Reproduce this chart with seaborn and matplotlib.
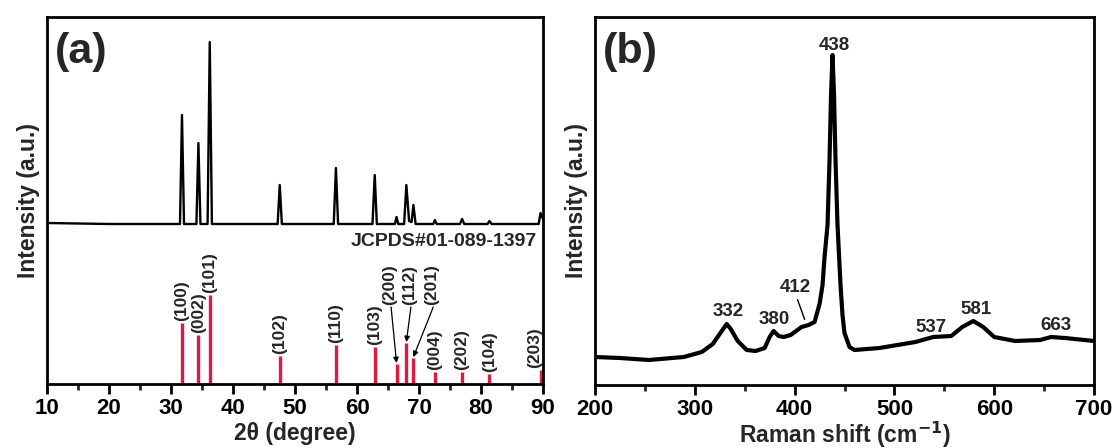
import matplotlib
matplotlib.use("Agg")
import matplotlib.pyplot as plt
from matplotlib.ticker import MultipleLocator
import seaborn as sns
import pandas as pd

# ---- XRD pattern of the sample (2theta vs intensity, arbitrary units) ----
xrd_two_theta = [10, 20, 31.45, 31.77, 32.1, 34.1, 34.42, 34.75, 35.9, 36.25,
                 36.6, 47.2, 47.54, 47.88, 56.25, 56.6, 56.95, 62.5, 62.86, 63.2,
                 66.1, 66.38, 66.65, 67.6, 67.96, 68.4, 68.8, 69.1, 69.45, 72.3,
                 72.56, 72.85, 76.6, 76.95, 77.3, 81.05, 81.37, 81.7, 89.3, 89.6,
                 90]
xrd_intensity = [161, 160, 160, 269, 160, 160, 241, 160, 160, 342,
                 160, 160, 199, 160, 160, 216, 160, 160, 209, 160,
                 160, 167, 160, 160, 199, 163, 162, 179, 160, 160,
                 164, 160, 160, 165, 160, 160, 163, 160, 160, 171,
                 165]

# ---- Standard reference lines (JCPDS#01-089-1397) ----
ref_two_theta = [31.77, 34.42, 36.25, 47.54, 56.6, 62.86, 66.38, 67.96, 69.1,
                 72.56, 76.95, 81.37, 89.6]
ref_intensity = [61, 49, 89, 28, 39, 37, 20, 41, 26, 12, 12, 10, 14]
ref_hkl = ["(100)", "(002)", "(101)", "(102)", "(110)", "(103)", "(200)",
           "(112)", "(201)", "(004)", "(202)", "(104)", "(203)"]

# ---- Raman spectrum ----
raman_shift = [200, 225, 254, 289, 307, 318, 327, 332, 336, 343,
               352, 361, 370, 375, 379, 384, 389, 396, 407, 414,
               420, 425, 428, 430, 433, 435, 436.5, 438, 439.5, 441,
               443, 446, 448, 450, 455, 460, 485, 521, 539, 557,
               568, 579, 589, 600, 621, 646, 657, 671, 700]
raman_intensity = [28, 27, 25, 28, 33, 41, 54, 61, 56, 44,
                   35, 34, 37, 48, 54, 49, 48, 50, 58, 60,
                   63, 81, 100, 128, 160, 225, 290, 330, 290, 225,
                   160, 100, 70, 52, 38, 35, 37, 43, 48, 49,
                   58, 64, 58, 48, 44, 45, 48, 47, 44]
raman_peaks = [332, 380, 412, 438, 537, 581, 663]

sns.set_theme(style="ticks")
plt.rcParams["font.family"] = ["Liberation Sans", "DejaVu Sans"]
plt.rcParams["font.weight"] = "bold"
plt.rcParams["axes.labelweight"] = "bold"
plt.rcParams["mathtext.default"] = "bf"

fig = plt.figure(figsize=(11.2, 4.48), dpi=100)
ax_a = fig.add_axes([47 / 1120, 1 - 384 / 448, 496 / 1120, 367 / 448])
ax_b = fig.add_axes([595 / 1120, 1 - 385 / 448, 499 / 1120, 368 / 448])

TICK_FS = 16
LABEL_FS = 16.5
HKL_FS = 12.5
PEAK_FS = 13.5
red = "#e3173f"


def style_axes(ax, major, minor):
    for sp in ax.spines.values():
        sp.set_visible(True)
        sp.set_linewidth(2.0)
        sp.set_color("black")
    ax.set_yticks([])
    ax.xaxis.set_major_locator(MultipleLocator(major))
    ax.xaxis.set_minor_locator(MultipleLocator(minor))
    ax.tick_params(axis="x", which="major", direction="out", length=7, width=2,
                   labelsize=TICK_FS, pad=3, colors="black")
    ax.tick_params(axis="x", which="minor", direction="out", length=4, width=2)
    for lab in ax.get_xticklabels():
        lab.set_fontweight("bold")


# ---------------- panel (a): XRD ----------------
xrd_df = pd.DataFrame({"two_theta": xrd_two_theta, "intensity": xrd_intensity})
sns.lineplot(data=xrd_df, x="two_theta", y="intensity", ax=ax_a, color="black",
             linewidth=1.7, estimator=None, sort=False)
ax_a.vlines(ref_two_theta, 0, ref_intensity, color=red, linewidth=2.4)

ax_a.set_xlim(10, 90)
ax_a.set_ylim(0, 367)
style_axes(ax_a, 10, 5)
ax_a.set_xlabel("2θ (degree)", fontsize=LABEL_FS, fontweight="bold", labelpad=2)
ax_a.set_ylabel("Intensity (a.u.)", fontsize=LABEL_FS, fontweight="bold", labelpad=5)
ax_a.text(0.016, 0.96, "(a)", transform=ax_a.transAxes, fontsize=31,
          fontweight="bold", ha="left", va="top")
ax_a.text(89.0, 142, "JCPDS#01-089-1397", fontsize=14, fontweight="bold",
          ha="right", va="center")

# hkl labels; the crowded (200)/(112)/(201) group is lifted and pointed with arrows
lifted = {"(200)": 65.3, "(112)": 68.5, "(201)": 72.1}
for pos, h, hkl in zip(ref_two_theta, ref_intensity, ref_hkl):
    if hkl in lifted:
        lx = lifted[hkl]
        ax_a.text(lx, 79, hkl, rotation=90, ha="center", va="bottom",
                  fontsize=HKL_FS, fontweight="bold")
        ax_a.annotate("", xy=(pos, h + 1), xytext=(lx + 0.2, 77),
                      arrowprops=dict(arrowstyle="-|>", color="black", lw=0.9,
                                      mutation_scale=8, shrinkA=0, shrinkB=0))
    else:
        lx = 88.6 if hkl == "(203)" else pos
        ax_a.text(lx, h + 2, hkl, rotation=90, ha="center", va="bottom",
                  fontsize=HKL_FS, fontweight="bold")

# ---------------- panel (b): Raman ----------------
raman_df = pd.DataFrame({"shift": raman_shift, "intensity": raman_intensity})
sns.lineplot(data=raman_df, x="shift", y="intensity", ax=ax_b, color="black",
             linewidth=3.0, estimator=None, sort=False)
ax_b.set_xlim(200, 700)
ax_b.set_ylim(0, 368)
style_axes(ax_b, 100, 50)
ax_b.set_xlabel("Raman shift (cm$^{-1}$)", fontsize=LABEL_FS, fontweight="bold",
                labelpad=0)
ax_b.set_ylabel("Intensity (a.u.)", fontsize=LABEL_FS, fontweight="bold", labelpad=5)
ax_b.text(0.016, 0.96, "(b)", transform=ax_b.transAxes, fontsize=31,
          fontweight="bold", ha="left", va="top")

label_pos = {332: (333, 73), 380: (380, 65), 412: (401, 97), 438: (440, 340),
             537: (537, 57), 581: (582, 75), 663: (662, 60)}
for pk in raman_peaks:
    lx, ly = label_pos[pk]
    ax_b.text(lx, ly, str(pk), fontsize=PEAK_FS, fontweight="bold",
              ha="center", va="center")
ax_b.annotate("", xy=(411, 63), xytext=(402, 88),
              arrowprops=dict(arrowstyle="-", color="black", lw=1.0))

fig.savefig("out.png", dpi=100, facecolor="white")
